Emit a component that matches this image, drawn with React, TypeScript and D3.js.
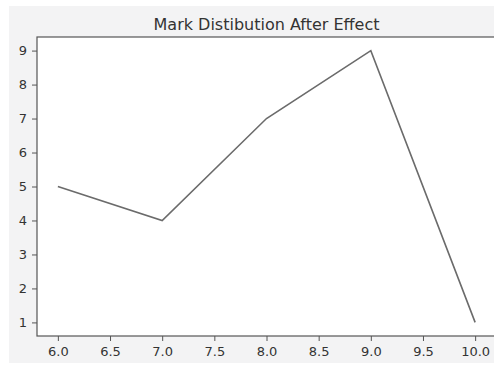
import React, { useEffect, useRef } from 'react';
import * as d3 from 'd3';

const marks = [6, 7, 8, 9, 10];
const counts = [5, 4, 7, 9, 1];
const xTicks = [6.0, 6.5, 7.0, 7.5, 8.0, 8.5, 9.0, 9.5, 10.0];
const yTicks = [1, 2, 3, 4, 5, 6, 7, 8, 9];
const title = 'Mark Distibution After Effect';

const App = () => {
    const ref = useRef<SVGSVGElement>(null);

    useEffect(() => {
        const svg = d3.select(ref.current);
        svg.selectAll('*').remove();

        const width = 494;
        const left = 37, top = 37, right = 496, bottom = 336;

        // figure background (light gray, as in the notebook screenshot)
        svg.append('rect')
            .attr('x', 9).attr('y', 6)
            .attr('width', width - 9).attr('height', 357)
            .attr('fill', '#f3f3f4');

        // matplotlib default 5% margins
        const xScale = d3.scaleLinear().domain([5.8, 10.2]).range([left, right]);
        const yScale = d3.scaleLinear().domain([0.6, 9.4]).range([bottom, top]);

        svg.append('rect')
            .attr('x', left).attr('y', top)
            .attr('width', right - left).attr('height', bottom - top)
            .attr('fill', '#ffffff');

        svg.append('path')
            .datum(marks.map((m, i) => [m, counts[i]] as [number, number]))
            .attr('fill', 'none')
            .attr('stroke', '#6b6b6b')
            .attr('stroke-width', 1.6)
            .attr('d', d3.line<[number, number]>()
                .x(d => xScale(d[0]))
                .y(d => yScale(d[1])));

        const fmt = d3.format('.1f');

        const xAxis = svg.append('g')
            .attr('transform', `translate(0, ${bottom})`)
            .call(d3.axisBottom(xScale).tickValues(xTicks).tickFormat(d => fmt(d as number)).tickSize(5).tickPadding(6));

        const yAxis = svg.append('g')
            .attr('transform', `translate(${left}, 0)`)
            .call(d3.axisLeft(yScale).tickValues(yTicks).tickFormat(d => String(d)).tickSize(5).tickPadding(5));

        [xAxis, yAxis].forEach(ax => {
            ax.select('.domain').remove();
            ax.selectAll('line').attr('stroke', '#555');
            ax.selectAll('text')
                .attr('fill', '#333')
                .style('font-family', 'DejaVu Sans')
                .style('font-size', '13px');
        });

        // spines
        svg.append('rect')
            .attr('x', left).attr('y', top)
            .attr('width', right - left).attr('height', bottom - top)
            .attr('fill', 'none')
            .attr('stroke', '#555')
            .attr('stroke-width', 1.2);

        svg.append('text')
            .attr('x', (left + right) / 2)
            .attr('y', 30)
            .attr('text-anchor', 'middle')
            .attr('fill', '#333')
            .style('font-family', 'DejaVu Sans')
            .style('font-size', '16px')
            .text(title);
    }, []);

    return (
        <svg ref={ref} width={494} height={365}
            style={{ position: 'absolute', left: 0, top: 0, background: '#ffffff' }} />
    );
};

export default App;
